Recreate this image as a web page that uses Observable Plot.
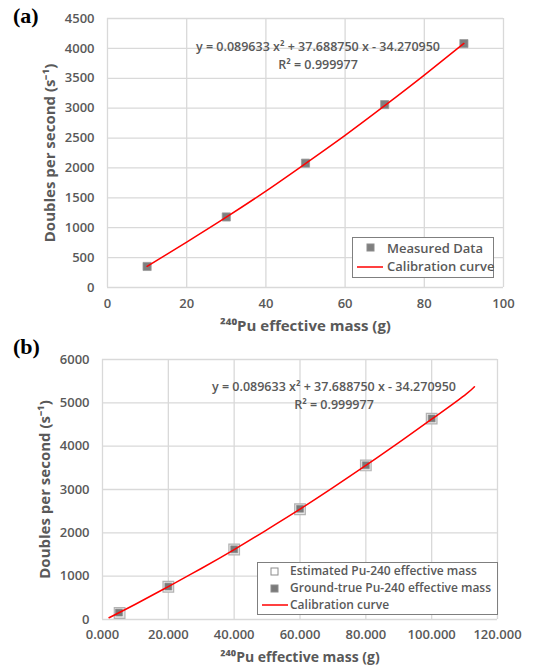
<!DOCTYPE html>
<html>
<head>
<meta charset="utf-8">
<script src="https://cdn.jsdelivr.net/npm/d3@7"></script>
<script src="https://cdn.jsdelivr.net/npm/@observablehq/plot@0.6"></script>
<style>
  html, body { margin: 0; padding: 0; background: #fff; }
  #wrap { position: relative; width: 538px; height: 666px; font-family: "Open Sans", sans-serif; color: #595959; overflow: hidden; }
  #wrap svg.plot { position: absolute; left: 0; overflow: visible; }
  .ov { position: absolute; white-space: nowrap; font-weight: 600; color: #595959; }
  .panel { position: absolute; font-family: "Liberation Serif", serif; font-weight: bold; font-size: 22px; color: #000; }
  .eq { font-size: 12.5px; text-align: center; line-height: 18px; }
  .legend { position: absolute; border: 1px solid #7f7f7f; background: #fff; font-weight: 600; color: #595959; }
  .legend .row { position: absolute; white-space: nowrap; line-height: 16px; }
  .legend svg { position: absolute; }
</style>
</head>
<body>
<div id="wrap"></div>
<script>
// ---------- Panel (a) data ----------
const massA = [10, 30, 50, 70, 90];
const doublesA = [352, 1180, 2080, 3060, 4080];
const curveMassA = [10, 20, 30, 40, 50, 60, 70, 80, 90];
const curveDoublesA = [352, 760, 1177, 1613, 2074, 2546, 3042, 3554, 4083];
const xTicksA = [0, 20, 40, 60, 80, 100];
const yTicksA = [0, 500, 1000, 1500, 2000, 2500, 3000, 3500, 4000, 4500];

// ---------- Panel (b) data ----------
const massTrueB = [5, 20, 40, 60, 80, 100];
const doublesTrueB = [160, 760, 1620, 2555, 3560, 4640];
const massEstB = [5.2, 20, 40, 60, 80, 100];
const doublesEstB = [150, 755, 1615, 2545, 3555, 4635];
const curveMassB = [2, 10, 20, 30, 40, 50, 60, 70, 80, 90, 100, 110, 113];
const curveDoublesB = [41, 352, 760, 1177, 1613, 2074, 2546, 3042, 3554, 4083, 4622, 5174, 5369];
const xTicksB = [0, 20, 40, 60, 80, 100, 120];
const yTicksB = [0, 1000, 2000, 3000, 4000, 5000, 6000];

const equation = "y = 0.089633 x\u00B2 + 37.688750 x - 34.270950";
const rSquared = "R\u00B2 = 0.999977";
const yLabel = "Doubles per second (s\u207B\u00B9)";
const xLabel = "\u00B2\u2074\u2070Pu effective mass (g)";

const toRows = (xs, ys) => xs.map((x, i) => ({x, y: ys[i]}));
const grid = "#d9d9d9";
const tickStyle = {fontFamily: "Open Sans, sans-serif", fontSize: "13px", fontWeight: 600, color: "#595959", background: "transparent", overflow: "visible"};

const wrap = document.getElementById("wrap");

// ---------- Chart (a) ----------
const chartA = Plot.plot({
  width: 538, height: 340,
  marginLeft: 107, marginRight: 35, marginTop: 18, marginBottom: 53,
  style: tickStyle,
  x: {domain: [0, 100], ticks: xTicksA, tickSize: 0, tickPadding: 11, tickFormat: d3.format("d"), label: null},
  y: {domain: [0, 4500], ticks: yTicksA, tickSize: 0, tickPadding: 13, tickFormat: d3.format("d"), label: null},
  marks: [
    Plot.gridX(xTicksA, {stroke: grid, strokeOpacity: 1, strokeWidth: 1.3}),
    Plot.gridY(yTicksA, {stroke: grid, strokeOpacity: 1, strokeWidth: 1.3}),
    Plot.dot(toRows(massA, doublesA), {x: "x", y: "y", symbol: "square", r: 4.6, fill: "#7f7f7f", stroke: "#9a9a9a", strokeWidth: 0.8}),
    Plot.line(toRows(curveMassA, curveDoublesA), {x: "x", y: "y", stroke: "#ff0000", strokeWidth: 1.5, curve: "natural"}),
    Plot.text([yLabel], {frameAnchor: "left", dx: -57, rotate: -90, text: d => d, fontSize: 15, fontWeight: "bold", fill: "#595959", textAnchor: "middle"}),
    Plot.text([xLabel], {frameAnchor: "bottom", lineAnchor: "middle", dy: 39, text: d => d, fontSize: 15, fontWeight: "bold", fill: "#595959", textAnchor: "middle"})
  ]
});
chartA.classList.add("plot");
chartA.style.top = "0px";
wrap.appendChild(chartA);

// ---------- Chart (b) ----------
const chartB = Plot.plot({
  width: 538, height: 340,
  marginLeft: 102, marginRight: 41, marginTop: 29, marginBottom: 51,
  style: tickStyle,
  x: {domain: [0, 120], ticks: xTicksB, tickSize: 0, tickPadding: 10, tickFormat: d3.format(".3f"), label: null},
  y: {domain: [0, 6000], ticks: yTicksB, tickSize: 0, tickPadding: 13, tickFormat: d3.format("d"), label: null},
  marks: [
    Plot.gridX(xTicksB, {stroke: grid, strokeOpacity: 1, strokeWidth: 1.3}),
    Plot.gridY(yTicksB, {stroke: grid, strokeOpacity: 1, strokeWidth: 1.3}),
    Plot.dot(toRows(massEstB, doublesEstB), {x: "x", y: "y", symbol: "square", r: 6, fill: "#e8e8e8", stroke: "#b3b3b3", strokeWidth: 1.2}),
    Plot.dot(toRows(massTrueB, doublesTrueB), {x: "x", y: "y", symbol: "square", r: 3.9, fill: "#7a7a7a", stroke: "#8c8c8c", strokeWidth: 0.6}),
    Plot.line(toRows(curveMassB, curveDoublesB), {x: "x", y: "y", stroke: "#ff0000", strokeWidth: 1.5, curve: "natural"}),
    Plot.text([yLabel], {frameAnchor: "left", dx: -57, rotate: -90, text: d => d, fontSize: 15, fontWeight: "bold", fill: "#595959", textAnchor: "middle"}),
    Plot.text([xLabel], {frameAnchor: "bottom", lineAnchor: "middle", dy: 38.5, text: d => d, fontSize: 14, fontWeight: "bold", fill: "#595959", textAnchor: "middle"})
  ]
});
chartB.classList.add("plot");
chartB.style.top = "330px";
wrap.appendChild(chartB);

// ---------- Overlays: panel tags, equations, legends ----------
function add(html, cls, css) {
  const d = document.createElement("div");
  d.className = cls;
  d.innerHTML = html;
  Object.assign(d.style, css);
  wrap.appendChild(d);
  return d;
}
add("(a)", "panel", {left: "13px", top: "3px"});
add("(b)", "panel", {left: "13px", top: "334px"});

add(equation + "<br>" + rSquared, "ov eq", {left: "168px", top: "38px", width: "300px"});
add(equation + "<br>" + rSquared, "ov eq", {left: "184px", top: "378px", width: "300px"});

const sq = (fill, stroke, s) => `<svg width="${s + 2}" height="${s + 2}"><rect x="1" y="1" width="${s}" height="${s}" fill="${fill}" stroke="${stroke}" stroke-width="1"/></svg>`;
const ln = w => `<svg width="${w}" height="4"><line x1="0" y1="2" x2="${w}" y2="2" stroke="#ff0000" stroke-width="1.5"/></svg>`;

const legA = ["Measured Data", "Calibration curve"];
add(
  `<div class="row" style="left:13px;top:5px">${sq("#7f7f7f", "#8c8c8c", 7)}</div>` +
  `<div class="row" style="left:34px;top:2px">${legA[0]}</div>` +
  `<div class="row" style="left:4px;top:27px">${ln(26)}</div>` +
  `<div class="row" style="left:34px;top:20px">${legA[1]}</div>`,
  "legend", {left: "352px", top: "237px", width: "140px", height: "39px", fontSize: "13px"}
);

const legB = ["Estimated Pu-240 effective mass", "Ground-true Pu-240 effective mass", "Calibration curve"];
add(
  `<div class="row" style="left:12px;top:4px">${sq("#ffffff", "#8c8c8c", 7)}</div>` +
  `<div class="row" style="left:32px;top:0px">${legB[0]}</div>` +
  `<div class="row" style="left:12px;top:21px">${sq("#7a7a7a", "#8c8c8c", 7)}</div>` +
  `<div class="row" style="left:32px;top:17px">${legB[1]}</div>` +
  `<div class="row" style="left:4px;top:40px">${ln(26)}</div>` +
  `<div class="row" style="left:32px;top:34px">${legB[2]}</div>`,
  "legend", {left: "257px", top: "562px", width: "239px", height: "51px", fontSize: "12px"}
);
</script>
</body>
</html>
